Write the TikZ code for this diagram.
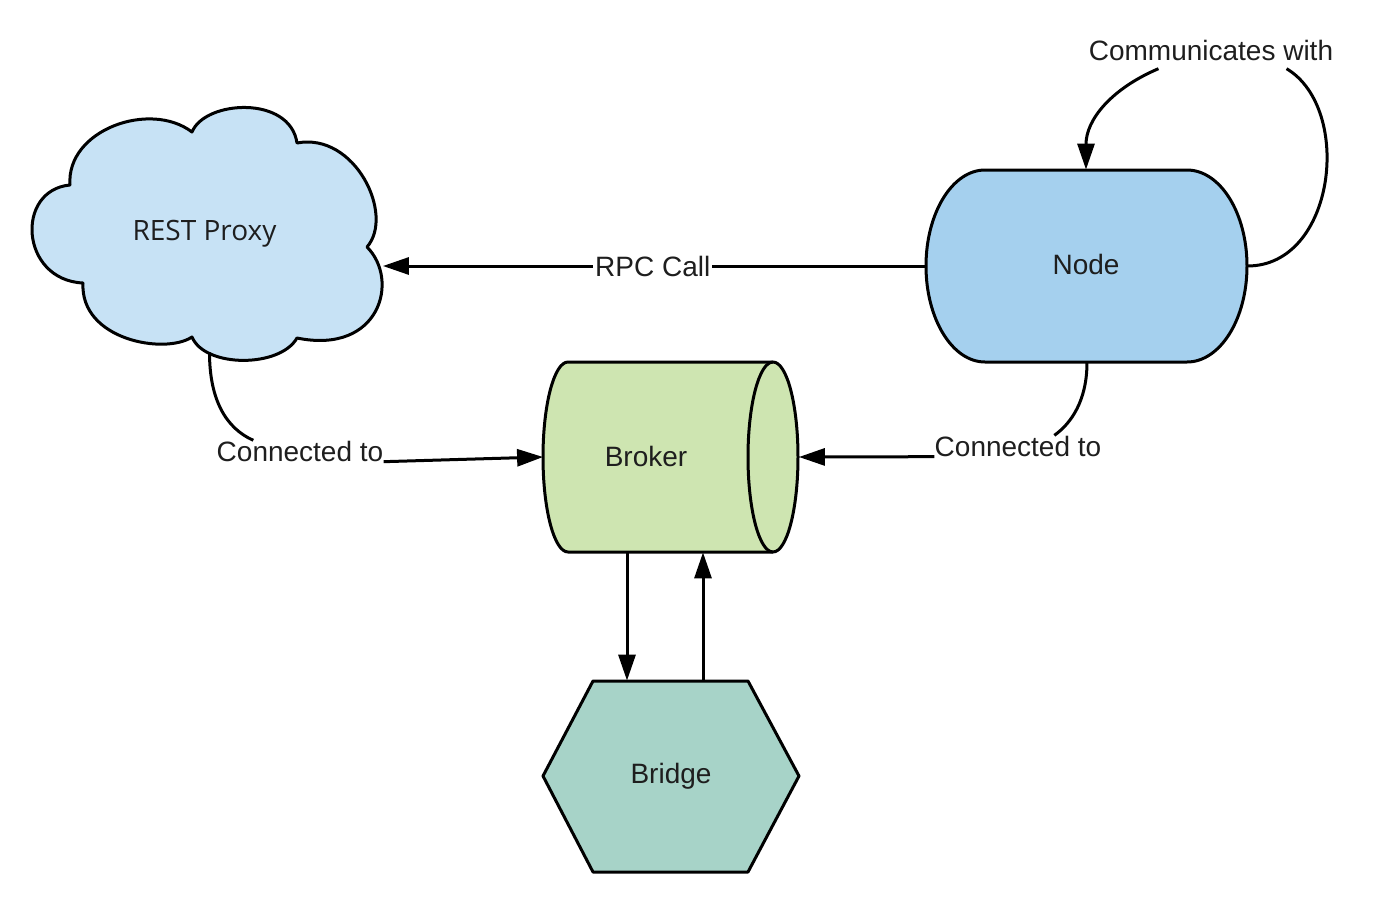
\documentclass[tikz,border=0pt]{standalone}
\usepackage{fontspec}
\setmainfont{Liberation Sans}
\newfontfamily\osans{Open Sans}
\usetikzlibrary{arrows.meta}
\definecolor{cloudc}{HTML}{C7E2F5}
\definecolor{nodec}{HTML}{A5D0EE}
\definecolor{brokc}{HTML}{CEE5B1}
\definecolor{bridc}{HTML}{A7D3C8}
\definecolor{txt}{HTML}{1E1E1E}
\begin{document}
\begin{tikzpicture}[x=0.5pt,y=0.5pt,
 shp/.style={draw=black, line width=1.5pt, line join=round},
 box/.style={inner sep=0pt, text=txt, font=\fontsize{14pt}{16pt}\selectfont},
 lbl/.style={inner sep=0pt, text=txt, font=\fontsize{14pt}{16pt}\selectfont},
 conn/.style={draw=black, line width=1.5pt},
 arr/.style={conn, -{Triangle[length=13pt,width=8.5pt]}},
]
\useasboundingbox (0,0) rectangle (1378,-922);

% cloud outline
\path[shp, fill=cloudc] (70,-185) .. controls (66,-130) and (150,-100) .. (192,-132)
 .. controls (205,-100) and (290,-95) .. (297,-143)
 .. controls (355,-132) and (395,-215) .. (367,-247)
 .. controls (400,-280) and (380,-355) .. (297,-338)
 .. controls (280,-368) and (205,-368) .. (192,-337)
 .. controls (165,-355) and (80,-340) .. (83,-283)
 .. controls (20,-280) and (15,-190) .. cycle;

% node (stadium)
\path[shp, fill=nodec] (985,-170) -- (1187,-170)
 arc[start angle=90, end angle=-90, x radius=30pt, y radius=48pt] -- (985,-362)
 arc[start angle=270, end angle=90, x radius=29.5pt, y radius=48pt] -- cycle;

% broker (cylinder)
\path[shp, fill=brokc] (568,-362) -- (773,-362)
 arc[start angle=90, end angle=-90, x radius=12.5pt, y radius=47.5pt] -- (568,-552)
 arc[start angle=270, end angle=90, x radius=12.5pt, y radius=47.5pt] -- cycle;
\draw[shp] (773,-362) arc[start angle=90, end angle=270, x radius=12.5pt, y radius=47.5pt];

% bridge (hexagon)
\path[shp, fill=bridc] (593,-681) -- (748,-681) -- (799,-776) -- (748,-872) -- (593,-872) -- (543,-776) -- cycle;

% nodes
\node[box, minimum width=175pt, minimum height=126pt, font=\osans\fontsize{14pt}{16pt}\selectfont] (cp) at (207.5,-234) {\raisebox{0.5pt}{REST Proxy}\hspace*{3pt}};
\node[box, minimum width=160pt, minimum height=96pt] (nd) at (1087,-266) {\raisebox{1.5pt}{Node}\hspace*{1pt}};
\node[box, minimum width=127.5pt, minimum height=95pt] (brk) at (671,-457) {\raisebox{1pt}{Broker}\hspace*{25pt}};
\node[box, minimum width=128pt, minimum height=95.5pt] (brg) at (671,-776.5) {Bridge};

\node[lbl] (comm) at (1211,-50) {Communicates with};
\node[lbl] (lblL) at (300,-451) {Connected to};
\node[lbl] (lblR) at (1018,-446) {Connected to};

% connectors
\draw[arr] (nd.west) -- node[lbl, fill=white, inner sep=1pt, xshift=-1pt] (rpc) {RPC Call} ([yshift=-16pt]cp.east);

\draw[conn] ([xshift=1pt,yshift=4pt]cp.south) .. controls +(0,-48) and +(-27,12) .. ([xshift=18.5pt]lblL.north west);
\draw[arr] (lblL.south east) -- (brk.west);

\draw[conn] (nd.south) .. controls +(0,-38) and +(17,12) .. ([xshift=60pt]lblR.north west);
\draw[arr] (lblR.south west) -- (brk.east);

\draw[conn] (nd.east) .. controls +(88,0) and +(67,-40) .. ([xshift=-23.5pt,yshift=-4pt]comm.south east);
\draw[arr] ([xshift=35pt,yshift=-4pt]comm.south west) .. controls +(-47,-20) and +(0,50) .. ([xshift=-0.5pt]nd.north);

\draw[arr] ([xshift=-22pt]brk.south) -- ([xshift=-22pt]brk.south |- brg.north);
\draw[arr] ([xshift=16pt]brg.north) -- ([xshift=16pt]brk.south);
\end{tikzpicture}
\end{document}
